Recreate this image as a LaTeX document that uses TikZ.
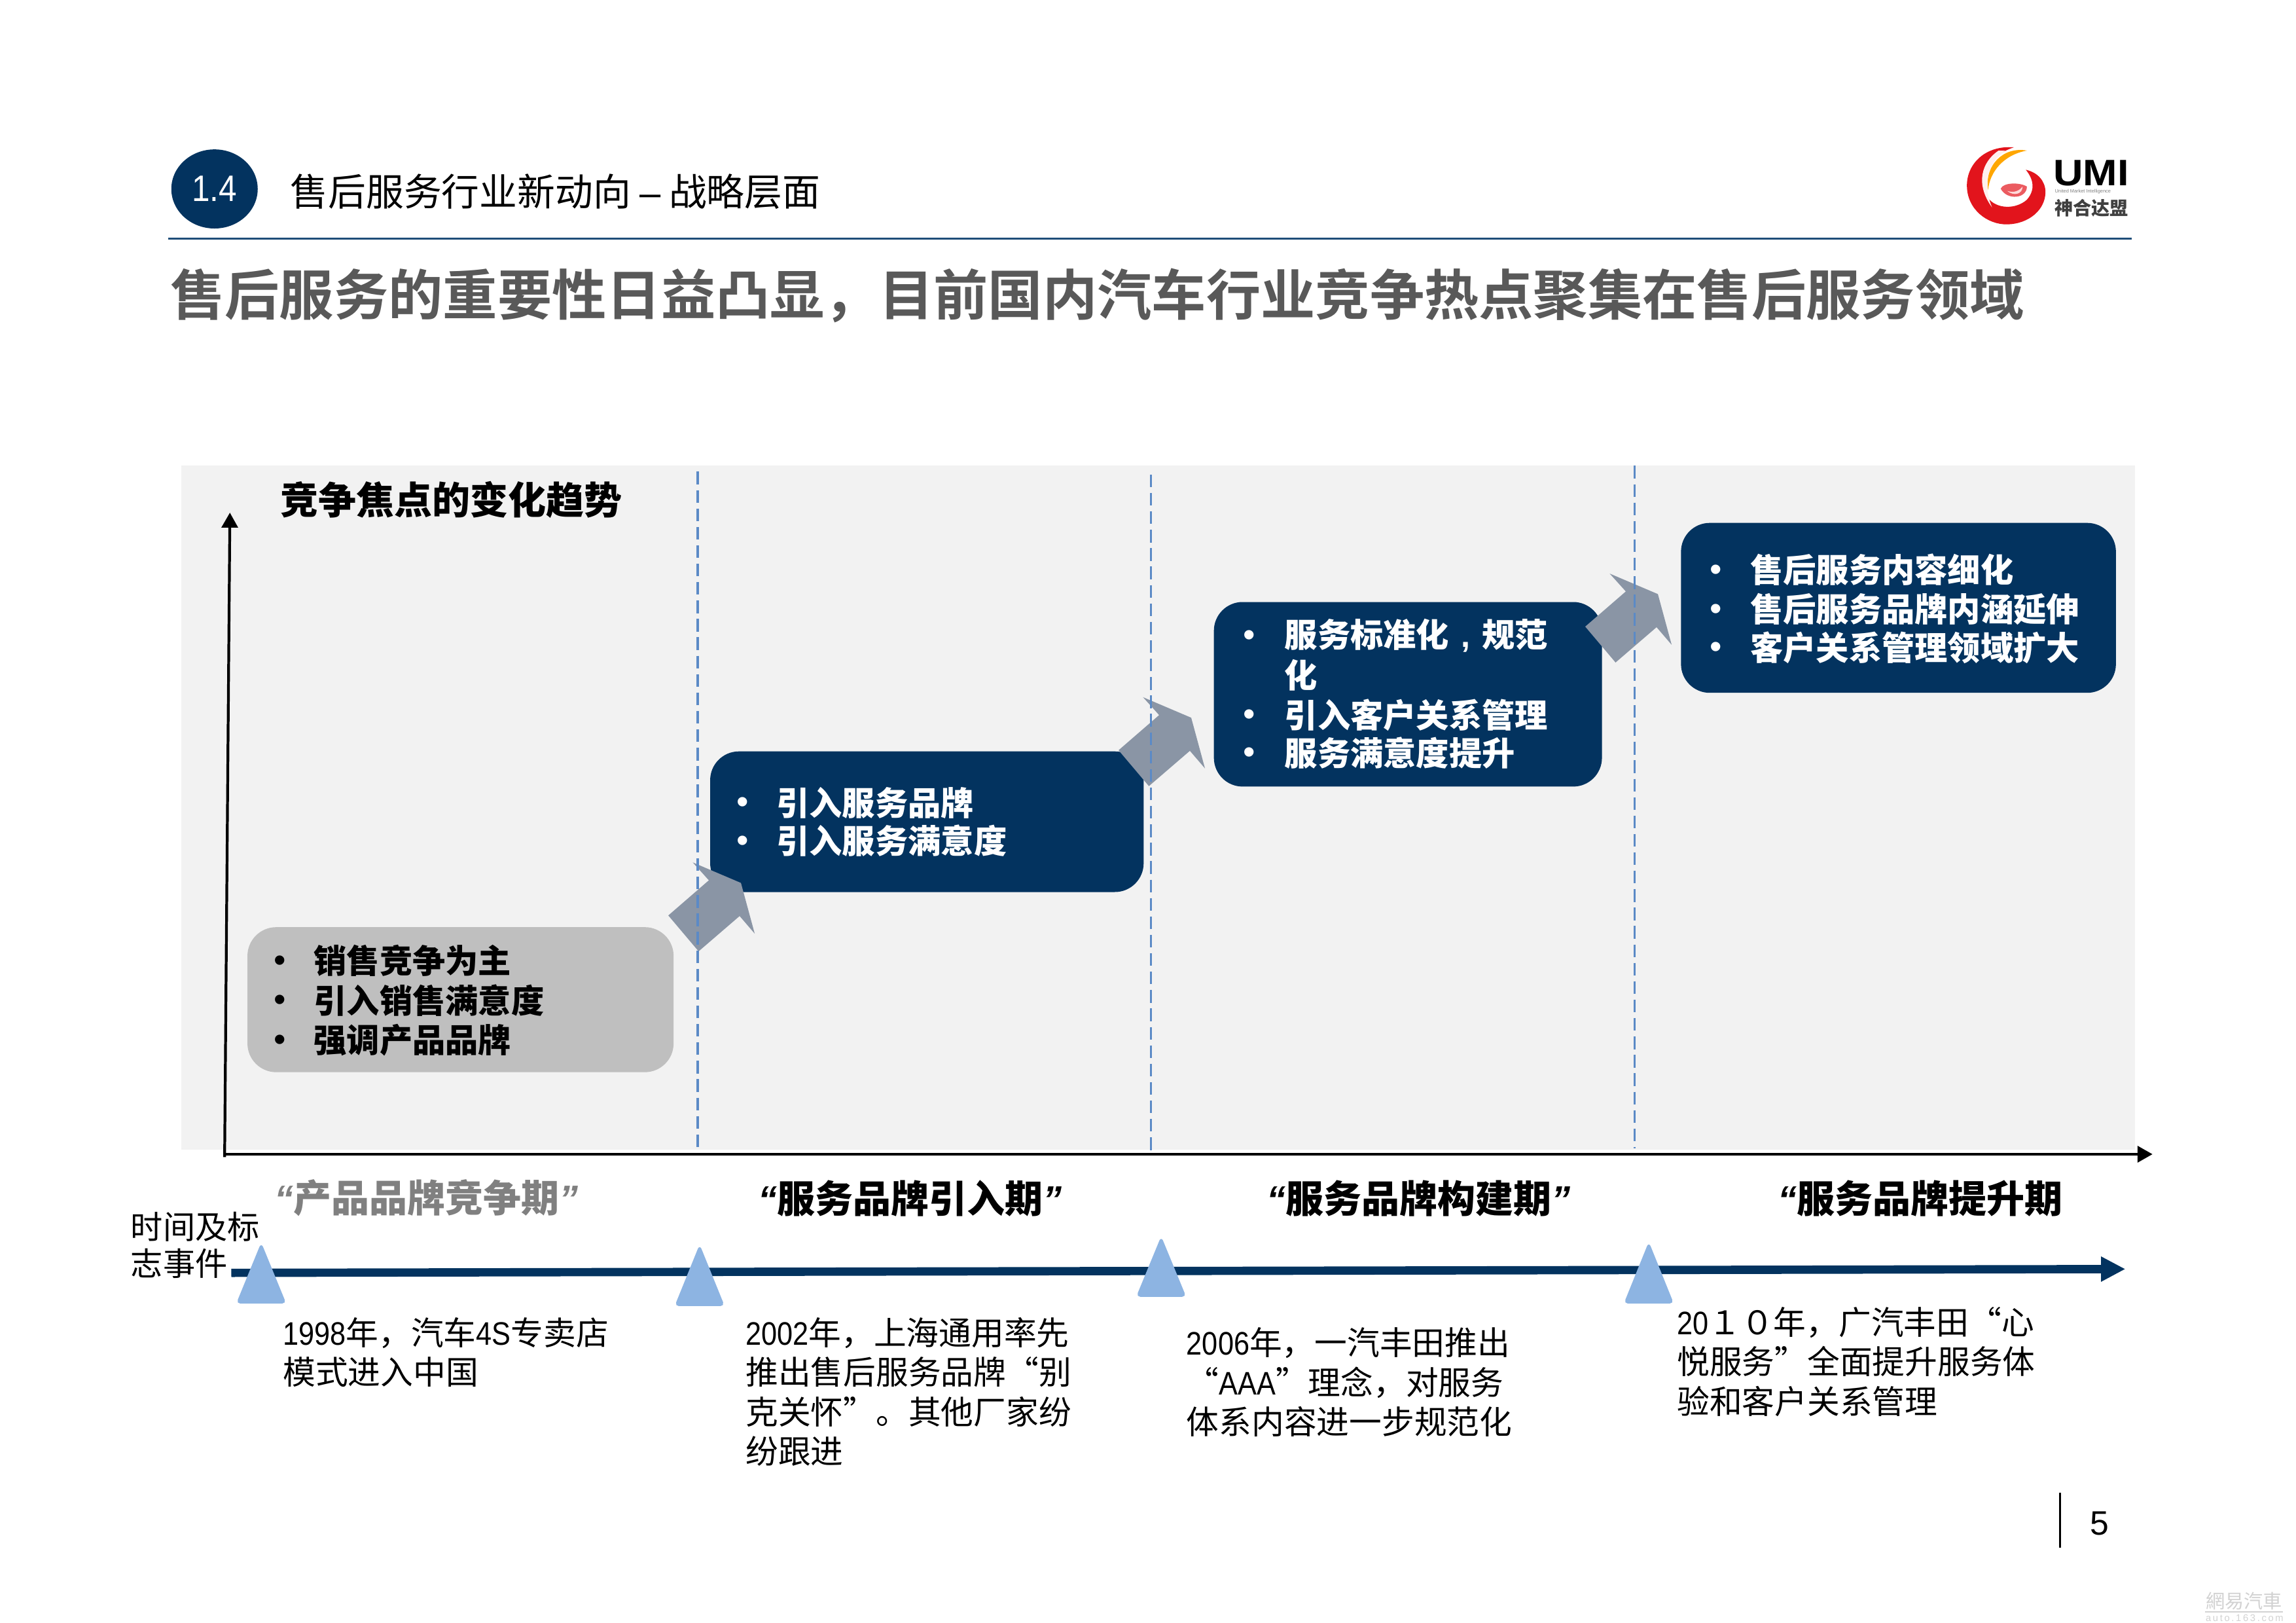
\documentclass[tikz,border=0pt]{standalone}
\usepackage{fontspec}
\usetikzlibrary{arrows.meta,shapes.geometric}
\setmainfont{Noto Sans CJK SC}[BoldFont={Noto Sans CJK SC Bold}]
\newfontfamily\heavy{Noto Sans CJK SC Black}
\newfontfamily\latinsans{Liberation Sans}
\newfontfamily\narrowsans{Liberation Sans}[FakeStretch=0.87]
\newfontfamily\badgefont{Liberation Sans}[FakeStretch=0.88]
\newfontfamily\umifont{Liberation Sans}[FakeStretch=1.12]
\newcommand{\nw}[1]{{\narrowsans #1}}
\newcommand{\qt}[1]{{\latinsans\bfseries\itshape #1}}
\definecolor{navy}{HTML}{03335F}
\definecolor{rulec}{HTML}{1F4E79}
\definecolor{panelc}{HTML}{F2F2F2}
\definecolor{grayboxc}{HTML}{BFBFBF}
\definecolor{arrowc}{HTML}{8A95A5}
\definecolor{dashc}{HTML}{5B8AC6}
\definecolor{triac}{HTML}{8DB4E2}
\definecolor{titlec}{HTML}{595959}
\definecolor{logored}{HTML}{E2141C}
\definecolor{wmc}{HTML}{D2D2D2}
\tikzset{
  x=0.022372cm, y=-0.022372cm,
  box/.style={rounded corners=12.5pt, inner sep=0pt, minimum width=#1*0.6365pt},
  bulletline/.style={anchor=west, inner sep=0pt, font=\heavy\fontsize{14.3}{17}\selectfont},
  bulletdot/.style={inner sep=0pt, yshift=-1.3pt, font=\latinsans\fontsize{15}{17}\selectfont},
  periodlabel/.style={anchor=west, inner sep=0pt, font=\heavy\fontsize{16.5}{20}\selectfont},
  bodytext/.style={anchor=north west, inner sep=0pt, align=left, font=\fontsize{14.15}{17.2}\selectfont},
  guide/.style={draw=dashc, line width=0.9pt, dash pattern=on 5.5pt off 2.5pt},
  milestone/.style={fill=triac, draw=triac, line width=0.5pt, rounded corners=1.5pt},
  axisline/.style={draw=black, line width=1.2pt, -{Triangle[length=6.5pt,width=7pt]}},
}
\newcommand{\bentarrow}[2]{\fill[arrowc, shift={(#1,#2)}] (0,0) -- (27.7,-24) -- (16.7,-36.2) -- (49.6,-22.2) -- (59,12.4) -- (48.7,0.4) -- (20.7,24.5) -- cycle;}
\newcommand{\milestonetri}[3]{\path[milestone] (#1-16.5,#3) -- (#1,#2) -- (#1+16.5,#3) -- cycle;}
\begin{document}
\begin{tikzpicture}
\useasboundingbox (0,0) rectangle (1568,1108);
\fill[white] (0,0) rectangle (1568,1108);

% header
\node[ellipse, fill=navy, inner sep=0pt, minimum width=59*0.6365pt, minimum height=54*0.6365pt, text=white, font=\badgefont\fontsize{16}{18}\selectfont] (badge) at (146.5,129) {1.4};
\node[anchor=west, inner sep=0pt, font=\fontsize{16.45}{20}\selectfont] (heading) at (198,131) {售后服务行业新动向 {\latinsans –} 战略层面};
\coordinate (ruleL) at (115,163);
\coordinate (ruleR) at (1456,163);
\draw[rulec, line width=1pt] (ruleL) -- (ruleR);
\node[anchor=west, inner sep=0pt, text=titlec, font=\fontsize{23.7}{28}\selectfont\bfseries] (title) at (116,202) {售后服务的重要性日益凸显，目前国内汽车行业竞争热点聚集在售后服务领域};

% logo
\begin{scope}[shift={(1296.3,80.46)}, scale=0.149]
  \fill[logored] (530,135) .. controls (400,125) and (315,210) .. (315,310)
     .. controls (315,420) and (410,490) .. (500,488)
     .. controls (600,486) and (675,420) .. (675,340)
     .. controls (675,290) and (640,250) .. (585,238)
     .. controls (620,280) and (630,330) .. (590,375)
     .. controls (540,420) and (450,420) .. (410,365)
     .. controls (370,310) and (370,190) .. (530,135) -- cycle;
  \fill[white!75!pink] (460,150) .. controls (385,200) and (350,300) .. (430,410)
     .. controls (385,300) and (410,210) .. (490,150) -- cycle;
  \fill[orange!70!yellow] (590,150) .. controls (480,130) and (395,220) .. (412,330)
     .. controls (420,250) and (480,170) .. (590,150) -- cycle;
  \fill[logored!70!white] (470,325) .. controls (480,295) and (560,295) .. (590,315)
     .. controls (590,370) and (500,380) .. (470,325) -- cycle;
  \fill[white!85!red] (500,335) .. controls (530,345) and (555,335) .. (570,315)
     .. controls (570,350) and (530,360) .. (500,335) -- cycle;
\end{scope}
\node[anchor=west, inner sep=0pt, font=\umifont\bfseries\fontsize{16}{18}\selectfont] (umi) at (1402,118) {UMI};
\node[anchor=west, inner sep=0pt, text=gray, font=\latinsans\fontsize{2.1}{3}\selectfont] (umisub) at (1403,131) {United Market Intelligence};
\node[anchor=west, inner sep=0pt, text=black!75, font=\heavy\fontsize{8}{9}\selectfont] (umicn) at (1403,142) {神合达盟};

% panel
\fill[panelc] (124,318) rectangle (1458,785);
\node[anchor=west, inner sep=0pt, font=\heavy\fontsize{16.5}{20}\selectfont] (paneltitle) at (191,341) {竞争焦点的变化趋势};

% boxes
\node[box=291, fill=grayboxc, minimum height=99*0.6365pt] (b1) at (314.5,682.5) {};
\node[box=296, fill=navy, minimum height=96*0.6365pt] (b2) at (633,561) {};
\node[box=265, fill=navy, minimum height=126*0.6365pt] (b3) at (961.5,474) {};
\node[box=297, fill=navy, minimum height=116*0.6365pt] (b4) at (1296.5,415) {};

% block arrows
\bentarrow{456.4}{625}
\bentarrow{763.9}{512.2}
\bentarrow{1082.6}{427.8}

% box texts
\node[bulletdot] (d11) at (191,656) {•};
\node[bulletline] (t11) at (214,656) {销售竞争为主};
\node[bulletdot] (d12) at (191,683) {•};
\node[bulletline] (t12) at (214,683) {引入销售满意度};
\node[bulletdot] (d13) at (191,710) {•};
\node[bulletline] (t13) at (214,710) {强调产品品牌};

\begin{scope}[text=white]
\node[bulletdot] (d21) at (507,548) {•};
\node[bulletline] (t21) at (530,548) {引入服务品牌};
\node[bulletdot] (d22) at (507,574) {•};
\node[bulletline] (t22) at (530,574) {引入服务满意度};

\node[bulletdot] (d31) at (853,434) {•};
\node[bulletline] (t31) at (877,434) {服务标准化\makebox[14.3pt]{\latinsans\bfseries ,}规范};
\node[bulletline] (t31b) at (877,461) {化};
\node[bulletdot] (d32) at (853,488) {•};
\node[bulletline] (t32) at (877,488) {引入客户关系管理};
\node[bulletdot] (d33) at (853,514) {•};
\node[bulletline] (t33) at (877,514) {服务满意度提升};

\node[bulletdot] (d41) at (1172,389) {•};
\node[bulletline] (t41) at (1195,389) {售后服务内容细化};
\node[bulletdot] (d42) at (1172,416) {•};
\node[bulletline] (t42) at (1195,416) {售后服务品牌内涵延伸};
\node[bulletdot] (d43) at (1172,442) {•};
\node[bulletline] (t43) at (1195,442) {客户关系管理领域扩大};
\end{scope}

% guides
\coordinate (g1t) at (476.5,322); \coordinate (g1b) at (476.5,786);
\coordinate (g2t) at (786,324);   \coordinate (g2b) at (786,786);
\coordinate (g3t) at (1116.5,318); \coordinate (g3b) at (1116.5,784);
\draw[guide] (g1t) -- (g1b);
\draw[guide] (g2t) -- (g2b);
\draw[guide] (g3t) -- (g3b);

% axes
\coordinate (origin) at (153.4,790);
\coordinate (ytip) at (157,350);
\coordinate (xstart) at (153,788);
\coordinate (xtip) at (1470,788);
\draw[axisline] (origin) -- (ytip);
\draw[axisline] (xstart) -- (xtip);

% period labels
\node[periodlabel, text=gray] (p1) at (187,818) {\qt{“}产品品牌竞争期\qt{”}};
\node[periodlabel] (p2) at (517.5,818) {\qt{“}服务品牌引入期\qt{”}};
\node[periodlabel] (p3) at (865,818) {\qt{“}服务品牌构建期\qt{”}};
\node[periodlabel] (p4) at (1214,818) {\qt{“}服务品牌提升期};

% timeline
\coordinate (tlstart) at (158,869);
\coordinate (tlend) at (1451.5,866.4);
\draw[navy, line width=3.6pt, -{Triangle[length=10.6pt,width=10.2pt]}] (tlstart) -- (tlend);
\milestonetri{178.4}{849.3}{889.6}
\milestonetri{477.8}{850.6}{891.3}
\milestonetri{793}{845}{885}
\milestonetri{1126}{848.8}{889.6}

% body text
\node[bodytext, font=\fontsize{14}{16}\selectfont] (side) at (89,827) {时间及标\\志事件};
\node[bodytext] (e1) at (193,899) {\nw{1998}年，汽车\nw{4S}专卖店\\模式进入中国};
\node[bodytext] (e2) at (509,899) {\nw{2002}年，上海通用率先\\推出售后服务品牌“别\\克关怀”。其他厂家纷\\纷跟进};
\node[bodytext] (e3) at (810,906) {\nw{2006}年，一汽丰田推出\\“\nw{AAA}”理念，对服务\\体系内容进一步规范化};
\node[bodytext] (e4) at (1145,892) {\nw{20}１０年，广汽丰田“心\\悦服务”全面提升服务体\\验和客户关系管理};

% page number
\coordinate (pnT) at (1407,1019);
\coordinate (pnB) at (1407,1056.6);
\draw[black, line width=0.9pt] (pnT) -- (pnB);
\node[inner sep=0pt, font=\latinsans\fontsize{14.7}{18}\selectfont] (pn) at (1434,1040) {5};

% watermark
\node[anchor=west, inner sep=0pt, text=wmc, font=\fontsize{8.3}{10}\selectfont] (wm) at (1506,1093) {網易汽車};
\coordinate (wmL) at (1506,1100.5);
\coordinate (wmR) at (1559,1100.5);
\draw[wmc, line width=0.5pt] (wmL) -- (wmR);
\node[anchor=west, inner sep=0pt, text=wmc, font=\latinsans\fontsize{4.2}{5}\selectfont] (wm2) at (1506,1104.5) {\addfontfeature{LetterSpace=18}auto.163.com};
\end{tikzpicture}
\end{document}
